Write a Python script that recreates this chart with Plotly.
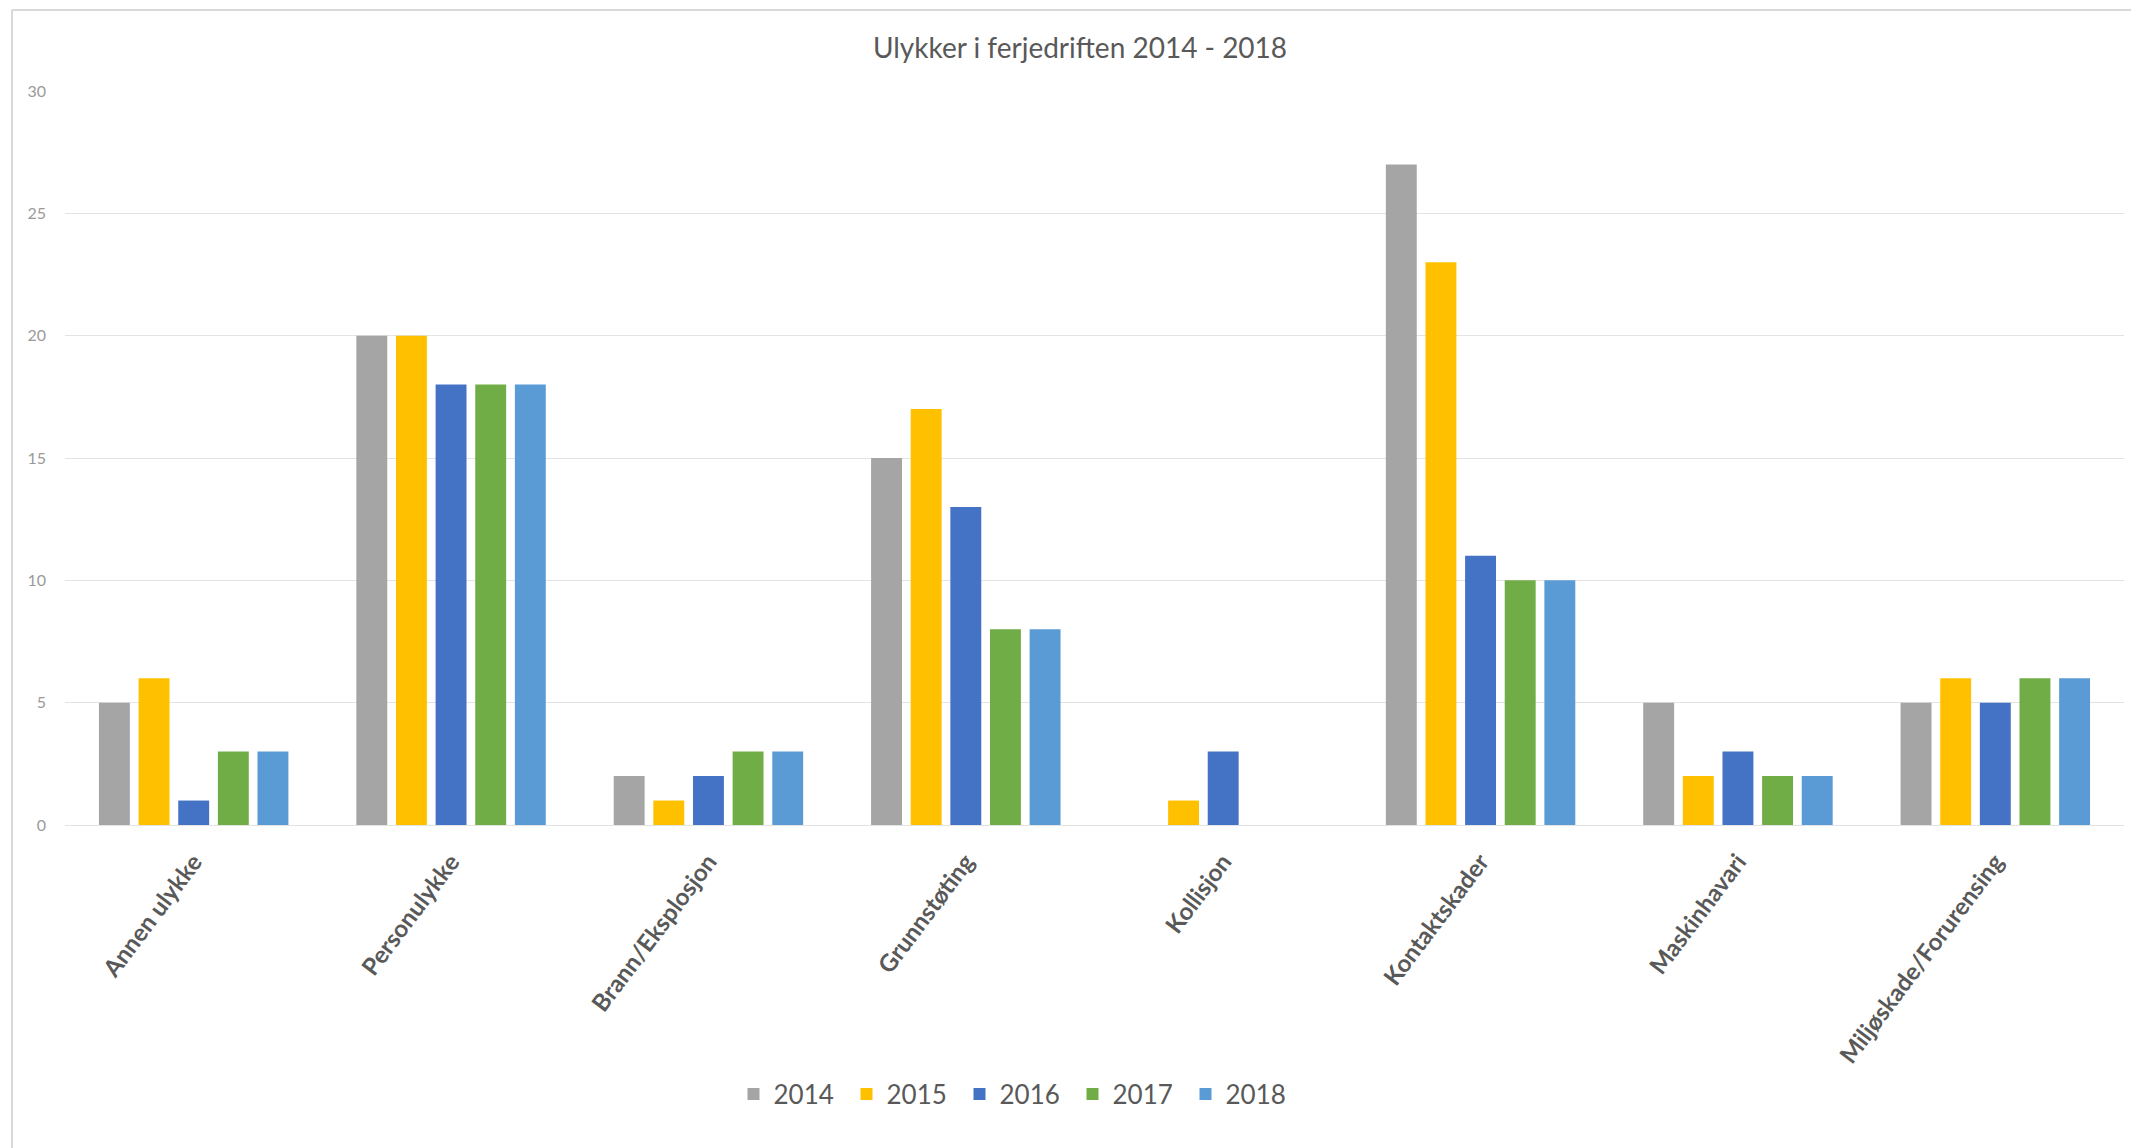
import plotly.graph_objects as go

categories = ["Annen ulykke", "Personulykke", "Brann/Eksplosjon", "Grunnstøting",
              "Kollisjon", "Kontaktskader", "Maskinhavari", "Miljøskade/Forurensing"]
years = ["2014", "2015", "2016", "2017", "2018"]

v2014 = [5, 20, 2, 15, None, 27, 5, 5]
v2015 = [6, 20, 1, 17, 1, 23, 2, 6]
v2016 = [1, 18, 2, 13, 3, 11, 3, 5]
v2017 = [3, 18, 3, 8, None, 10, 2, 6]
v2018 = [3, 18, 3, 8, None, 10, 2, 6]

series = [v2014, v2015, v2016, v2017, v2018]
colors = ["#A5A5A5", "#FFC000", "#4472C4", "#70AD47", "#5B9BD5"]

fig = go.Figure()
for name, vals, col in zip(years, series, colors):
    fig.add_trace(go.Bar(x=categories, y=vals, name=name, marker_color=col,
                         marker_line_width=0))

W, H = 2139, 1148
L, R, T, B = 57, 23, 83, 331
PW, PH = W - L - R, H - T - B


def px(x):
    return (x - L) / PW


def py(y):
    return (H - B - y) / PH


fig.update_layout(
    width=W, height=H,
    margin=dict(l=L, r=R, t=T, b=B, autoexpand=False),
    paper_bgcolor="white", plot_bgcolor="white",
    barmode="group", bargap=0.23, bargroupgap=0.22,
    font=dict(family="Lato, sans-serif", color="#595959"),
    title=dict(text="Ulykker i ferjedriften 2014 - 2018", x=1072 / W, xanchor="center",
               y=1 - 40 / H, yanchor="middle",
               font=dict(size=28, color="#595959", family="Lato, sans-serif")),
    legend=dict(orientation="h", x=px(1008), xanchor="center",
                y=py(1086), yanchor="middle",
                font=dict(size=26, color="#595959"), itemwidth=30,
                entrywidth=68, entrywidthmode="pixels",
                traceorder="normal"),
    showlegend=True,
)

fig.update_yaxes(range=[0, 30], dtick=5, showgrid=True, gridcolor="#E3E3E3", gridwidth=1,
                 zeroline=True, zerolinecolor="#E3E3E3", zerolinewidth=1,
                 showline=False, ticks="", ticklabelstandoff=18,
                 tickfont=dict(size=16, color="#9A9A9A"), automargin=False)
fig.update_xaxes(tickangle=-53, showgrid=False, showline=False, ticks="",
                 ticklabelstandoff=17,
                 tickfont=dict(size=24, color="#595959", family="Lato, sans-serif", weight="bold"),
                 automargin=False)

# chart frame (left and top edges)
fig.add_shape(type="line", xref="paper", yref="paper",
              x0=px(4), x1=px(4), y0=py(2), y1=py(H + 20),
              line=dict(color="#D9D9D9", width=2))
fig.add_shape(type="line", xref="paper", yref="paper",
              x0=px(4), x1=px(W + 20), y0=py(2), y1=py(2),
              line=dict(color="#D9D9D9", width=2))

fig.write_html("out.html")
